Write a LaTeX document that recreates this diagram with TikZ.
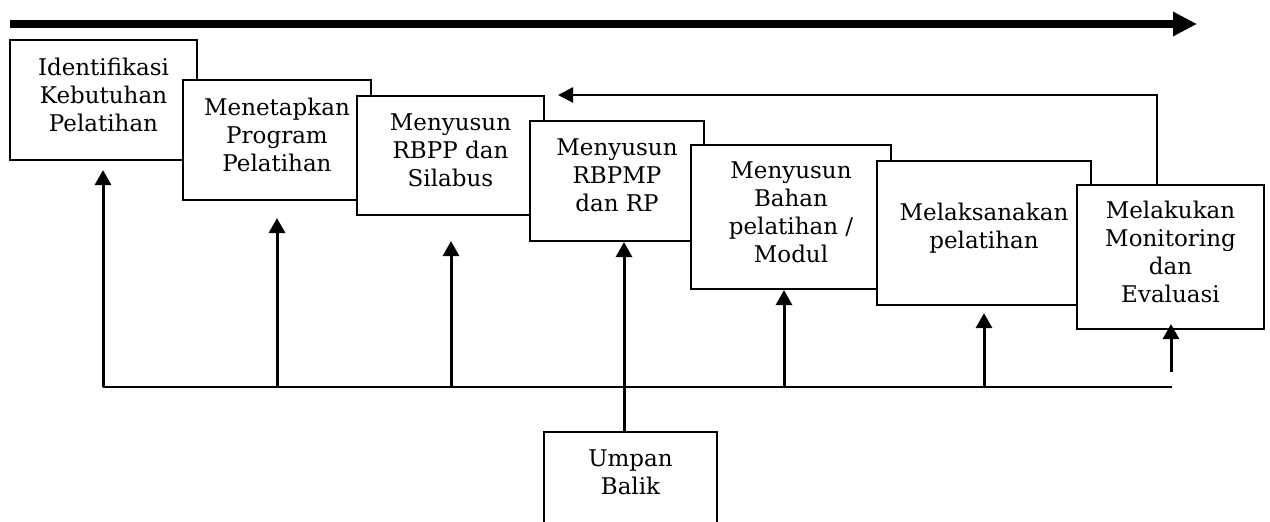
\documentclass[tikz,border=0pt]{standalone}
\usepackage{fontspec}
\setmainfont{DejaVu Serif}
\usetikzlibrary{arrows.meta}
\tikzset{
 stepbox/.style={draw, line width=2.1pt, fill=white, inner sep=0pt},
 lbl/.style={align=center, font=\fontsize{23}{28}\selectfont, inner sep=0pt},
 up/.style={line width=3pt, -{Triangle[width=16pt,length=15pt]}},
 link/.style={line width=2.7pt},
 fbarrow/.style={line width=2.3pt, -{Triangle[width=15pt,length=15pt]}},
 big/.style={line width=7.5pt, -{Triangle[width=23pt,length=24pt]}},
}
\begin{document}
\begin{tikzpicture}[x=1pt,y=-1pt]
\useasboundingbox (0,0) rectangle (1270,522);
\clip (0,0) rectangle (1270,522);
% top progress arrow
\coordinate (t1) at (10,24);
\coordinate (t2) at (1197,24);
\draw[big] (t1) -- (t2);
% boxes
\node[stepbox, minimum width=187pt, minimum height=120pt] (b1) at (103.5,100) {};
\node[lbl] (l1) at ([yshift=5pt]b1.center) {Identifikasi\\Kebutuhan\\Pelatihan};
\node[stepbox, minimum width=188pt, minimum height=120pt] (b2) at (277,140) {};
\node[lbl] (l2) at ([yshift=5pt]b2.center) {Menetapkan\\Program\\Pelatihan};
\node[stepbox, minimum width=187pt, minimum height=119pt] (b3) at (450.5,155.5) {};
\node[lbl] (l3) at ([yshift=5pt]b3.center) {Menyusun\\RBPP dan\\Silabus};
\node[stepbox, minimum width=174pt, minimum height=120pt] (b4) at (617,181) {};
\node[lbl] (l4) at ([yshift=6pt]b4.center) {Menyusun\\RBPMP\\dan RP};
\node[stepbox, minimum width=200pt, minimum height=144pt] (b5) at (791,217) {};
\node[lbl] (l5) at ([yshift=5pt]b5.center) {Menyusun\\Bahan\\pelatihan /\\Modul};
\node[stepbox, minimum width=214pt, minimum height=144pt] (b6) at (984,233) {};
\node[lbl] (l6) at ([yshift=5pt]b6.center) {Melaksanakan\\pelatihan};
\node[stepbox, minimum width=187pt, minimum height=144pt] (b7) at (1170.5,257) {};
\node[lbl] (l7) at ([yshift=5pt]b7.center) {Melakukan\\Monitoring\\dan\\Evaluasi};
% feedback box
\node[stepbox, minimum width=173pt, minimum height=120pt] (ub) at (630.5,492) {};
\node[lbl] (l8) at (630.5,472) {Umpan\\Balik};
% feedback loop
\coordinate (fb1) at (1157,95);
\coordinate (fb2) at (558,95);
\draw[fbarrow] (fb1 |- b7.north) -- (fb1) -- (fb2);
% bottom line and arrows
\coordinate (bl) at (103,387);
\coordinate (br) at (1172,387);
\draw[link] (bl) -- (br);
\coordinate (a1) at (103,387);
\coordinate (a2) at (277,387);
\coordinate (a3) at (451,387);
\coordinate (a4) at (624,387);
\coordinate (a5) at (784,387);
\coordinate (a6) at (984,387);
\coordinate (a7) at (1171,372);
\draw[up] (a1) -- ([yshift=-9pt]a1 |- b1.south);
\draw[up] (a2) -- ([yshift=-17pt]a2 |- b2.south);
\draw[up] (a3) -- ([yshift=-25pt]a3 |- b3.south);
\draw[up] (a4 |- ub.north) -- (a4 |- b4.south);
\draw[up] (a5) -- (a5 |- b5.south);
\draw[up] (a6) -- ([yshift=-7pt]a6 |- b6.south);
\draw[up] (a7) -- ([yshift=6pt]a7 |- b7.south);
\end{tikzpicture}
\end{document}
